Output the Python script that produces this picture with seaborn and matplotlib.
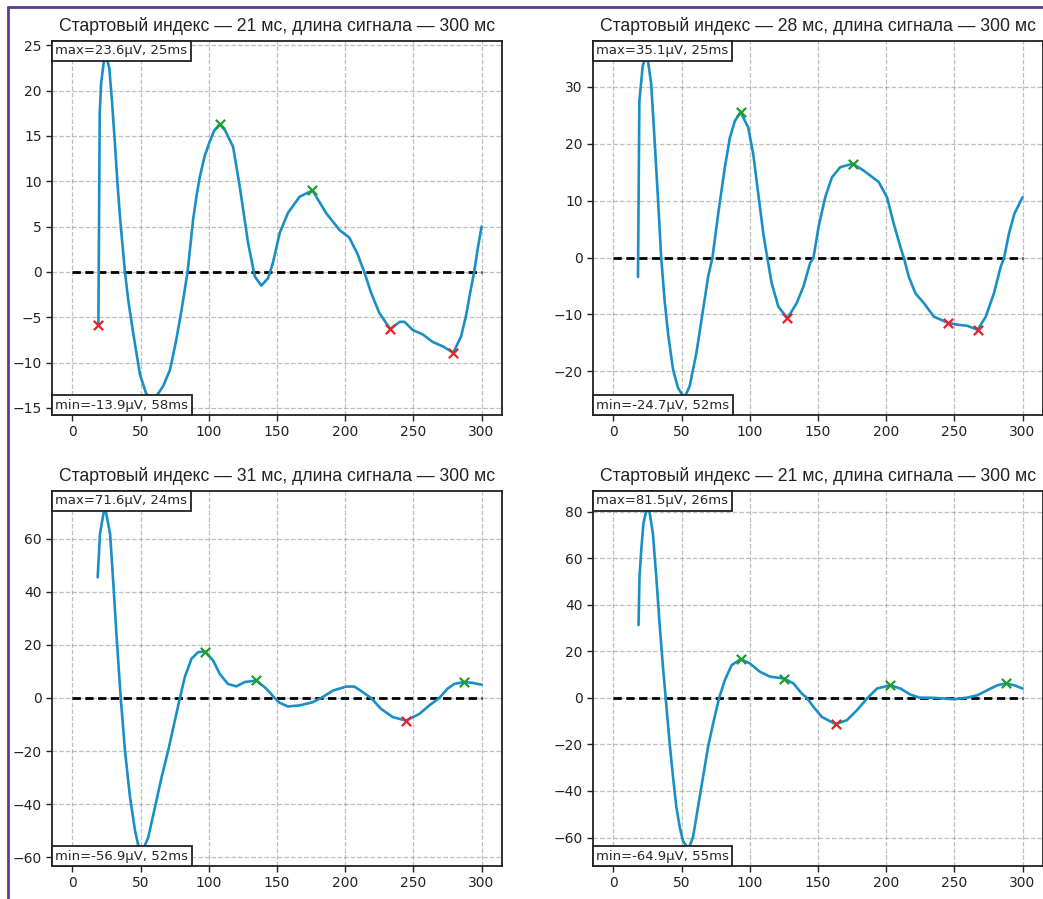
import pandas as pd
import seaborn as sns
import matplotlib.pyplot as plt
from matplotlib.lines import Line2D
from matplotlib.offsetbox import AnchoredText

# Данные (время, мс / амплитуда, мкВ)
titles = [
    "Стартовый индекс — 21 мс, длина сигнала — 300 мс",
    "Стартовый индекс — 28 мс, длина сигнала — 300 мс",
    "Стартовый индекс — 31 мс, длина сигнала — 300 мс",
    "Стартовый индекс — 21 мс, длина сигнала — 300 мс",
]

t1 = [19, 20, 21, 23, 25, 27, 29, 31, 33, 35, 38.5, 41, 44.5, 49.5, 54, 58, 62, 66.5, 71.5, 76,
      80, 84.4, 88.5, 91, 93.4, 97, 100.7, 104, 108, 112, 117.8, 122.7, 128.8, 133.7, 138.5,
      143.4, 147, 152, 158, 166.6, 176, 186, 196, 203, 209, 214, 219, 225, 233, 240, 243.5,
      249.5, 257, 264, 271.5, 279.3, 285, 288.5, 292, 294.6, 297, 300]
v1 = [-5.9, 17.5, 20.8, 23.2, 23.6, 22.5, 18.8, 14.5, 9.8, 5.8, 0, -3.2, -6.7, -11.3, -13.4,
      -13.9, -13.6, -12.6, -10.8, -7.6, -4.2, 0, 5.8, 8.4, 10.5, 12.8, 14.4, 15.6, 16.3, 15.6,
      13.8, 9.4, 3.2, -0.5, -1.5, -0.7, 1.0, 4.3, 6.5, 8.3, 9.0, 6.5, 4.6, 3.8, 2.0, 0, -2.3,
      -4.5, -6.3, -5.5, -5.5, -6.4, -6.9, -7.7, -8.2, -8.9, -7.1, -4.9, -2.0, 0, 2.4, 5.0]

t2 = [18, 19, 21.5, 23, 25, 27.7, 30.2, 32.6, 35, 37.5, 40, 43.7, 47.3, 52, 55.9, 60.8, 65.7,
      69.4, 72.6, 76.8, 81.7, 85.4, 89, 93.2, 98.8, 102.5, 106.2, 109.9, 112.8, 116, 120.9,
      127.5, 134.4, 139.3, 144.2, 146.7, 150.4, 155.3, 160.2, 166.3, 175.4, 183.5, 194.5, 200.6,
      205.5, 210.4, 212.9, 216.6, 221.5, 227.6, 235, 245.5, 252, 259.5, 267, 273, 279, 284,
      286.5, 290, 294, 300]
v2 = [-3.4, 27.5, 33.8, 34.8, 35.1, 30.5, 20.5, 10.6, 0, -7.5, -13.3, -19.7, -22.9, -24.7,
      -22.6, -16.8, -9.2, -3.4, 0, 7.7, 15.9, 21.1, 24.0, 25.6, 22.9, 18.2, 11.2, 4.2, 0, -4.5,
      -8.6, -10.7, -8.0, -5.1, -1.0, 0, 5.4, 10.6, 14.1, 15.9, 16.5, 15.3, 13.3, 10.6, 6.0, 1.9,
      0, -3.4, -6.3, -8.0, -10.4, -11.5, -11.8, -12.0, -12.7, -10.4, -6.3, -1.6, 0, 4.2, 7.7,
      10.6]

t3 = [18.5, 20.2, 22.7, 24, 27.6, 30, 32.4, 35.4, 38.5, 42.2, 45.9, 48.3, 52, 55.6, 60.5, 65.4,
      70.2, 75.1, 78.8, 82.4, 87.3, 92.2, 97.3, 103.2, 108, 114, 120.2, 126.3, 134.9, 142.2,
      148.3, 152, 158, 166.6, 176, 182.4, 191, 200.7, 206.8, 212.9, 219, 226.3, 234.9, 244.6,
      254.4, 261.7, 269, 275, 280, 286.8, 293.4, 300]
v3 = [45.5, 61.9, 69.4, 71.6, 61.9, 43.0, 22.9, 0, -19.8, -37.4, -50.0, -55.6, -56.9, -52.5,
      -41.2, -29.8, -19.8, -8.5, 0, 7.9, 14.8, 17.3, 17.5, 14.1, 9.1, 5.3, 4.4, 6.0, 6.6, 3.5,
      0, -1.8, -3.2, -2.8, -1.6, 0, 2.8, 4.3, 4.3, 2.2, 0, -4.1, -7.2, -8.5, -6.0, -2.8, 0, 3.5,
      5.3, 6.0, 5.7, 5.0]

t4 = [18.4, 19.1, 20.4, 22, 24, 26, 28.9, 31.4, 33.8, 36.3, 38.3, 41.2, 43.7, 46.1, 48.6, 51,
      55, 58.4, 62, 65.7, 69.4, 73.1, 77.5, 81.7, 86.6, 93.2, 100, 107.4, 114.8, 125.1, 132, 138,
      141.8, 146.7, 152.8, 162.9, 171.2, 178.6, 185.9, 193.3, 203.1, 210.4, 217.8, 224, 235,
      249.7, 259.5, 266.9, 274.2, 281.6, 287.7, 293.8, 300]
v4 = [31.3, 52.0, 63.5, 75.0, 80.2, 81.5, 70.7, 52.0, 32.0, 13.3, 0, -19.6, -34.0, -46.9,
      -55.5, -61.5, -64.9, -59.7, -46.9, -34.0, -21.0, -11.0, 0, 7.6, 14.0, 16.6, 14.8, 11.2,
      9.1, 8.3, 6.2, 1.9, 0, -3.9, -8.2, -11.3, -9.6, -5.3, -0.3, 4.0, 5.4, 4.0, 1.4, 0.1, 0,
      -0.6, 0.1, 1.1, 3.3, 5.4, 6.2, 5.4, 4.0]

# локальные максимумы (зелёные) и минимумы (красные)
peaks_t = [[108, 176], [93.2, 175.4], [97.3, 134.9, 286.8], [93.2, 125.1, 203.1, 287.7]]
peaks_v = [[16.3, 9.0], [25.6, 16.5], [17.5, 6.6, 6.0], [16.6, 8.3, 5.4, 6.2]]
troughs_t = [[19, 233, 279.3], [127.5, 245.5, 267], [244.6], [162.9]]
troughs_v = [[-5.9, -6.3, -8.9], [-10.7, -11.5, -12.7], [-8.5], [-11.3]]

max_labels = ["max=23.6µV, 25ms", "max=35.1µV, 25ms", "max=71.6µV, 24ms", "max=81.5µV, 26ms"]
min_labels = ["min=-13.9µV, 58ms", "min=-24.7µV, 52ms", "min=-56.9µV, 52ms", "min=-64.9µV, 55ms"]

signals = [(t1, v1), (t2, v2), (t3, v3), (t4, v4)]

sns.set_style("ticks")
plt.rcParams['font.family'] = ['DejaVu Sans']

W, H = 1043, 899
fig = plt.figure(figsize=(W / 100, H / 100), dpi=100)

# позиции осей в пикселях: left, top, right, bottom
boxes = [(52, 41, 502, 415), (593, 41, 1043, 415), (52, 491, 502, 866), (593, 491, 1043, 866)]

for i, (t, v) in enumerate(signals):
    l, tp, r, b = boxes[i]
    ax = fig.add_axes([l / W, 1 - b / H, (r - l) / W, (b - tp) / H])
    df = pd.DataFrame({'t': t, 'v': v})

    ax.plot([0, 300], [0, 0], color='black', lw=2, ls=(0, (3, 1.6)), zorder=2)
    sns.lineplot(data=df, x='t', y='v', sort=False, color='#1a8fc6', lw=1.9, ax=ax, zorder=3)
    sns.scatterplot(x=peaks_t[i], y=peaks_v[i], marker='x', color='#1e9e2a', s=45,
                    linewidth=1.6, ax=ax, zorder=4)
    sns.scatterplot(x=troughs_t[i], y=troughs_v[i], marker='x', color='#e8202a', s=45,
                    linewidth=1.6, ax=ax, zorder=4)

    ax.set_xticks([0, 50, 100, 150, 200, 250, 300])
    ax.grid(True, ls='--', color='gray', alpha=0.5, lw=0.9)
    ax.set_axisbelow(True)
    ax.set_xlabel('')
    ax.set_ylabel('')
    ax.tick_params(labelsize=10, length=4, width=1, colors='#222222')
    for s in ax.spines.values():
        s.set_color('#222222')
        s.set_linewidth(1.3)

    ax.set_title(titles[i], fontsize=12.7, family=['Liberation Sans', 'DejaVu Sans'],
                 color='#222222', pad=7)

    for txt, loc in [(max_labels[i], 'upper left'), (min_labels[i], 'lower left')]:
        at = AnchoredText(txt, loc=loc, borderpad=0, pad=0.25, prop=dict(size=9.5))
        at.patch.set_edgecolor('#222222')
        at.patch.set_linewidth(1.3)
        ax.add_artist(at)

# фиолетовая рамка сверху и слева
fig.add_artist(Line2D([8 / W, 1], [1 - 7 / H, 1 - 7 / H], color='#5b3c94', lw=2,
                      transform=fig.transFigure))
fig.add_artist(Line2D([8 / W, 8 / W], [0, 1 - 7 / H], color='#5b3c94', lw=2,
                      transform=fig.transFigure))

fig.savefig('out.png', dpi=100)
